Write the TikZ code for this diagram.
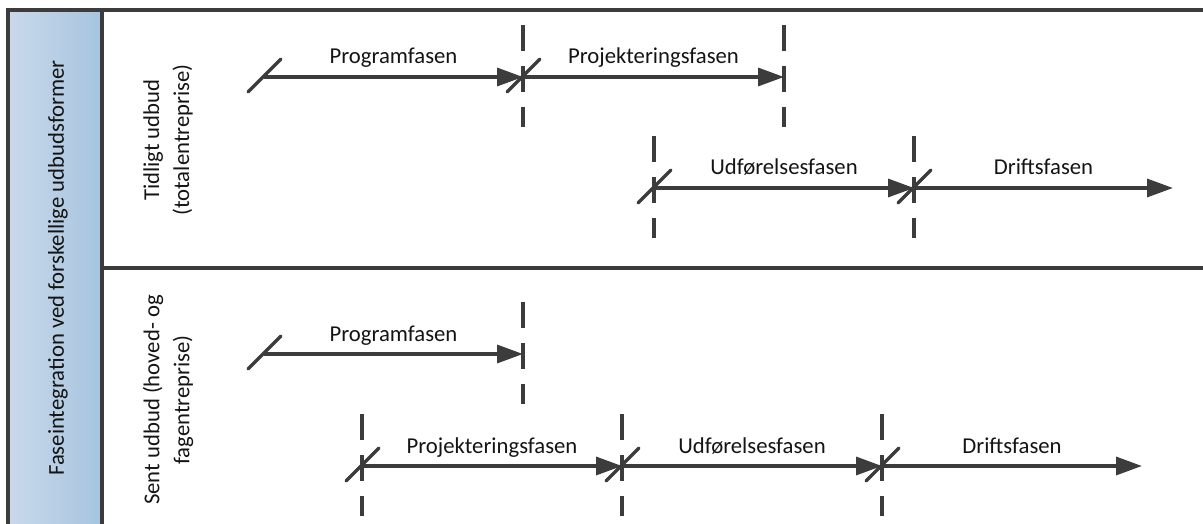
\documentclass[tikz,border=0pt]{standalone}
\usepackage{fontspec}
\setmainfont{Carlito}
\usetikzlibrary{arrows.meta}
\definecolor{ln}{HTML}{3C3C3C}
\definecolor{txt}{HTML}{141414}
\definecolor{bandL}{RGB}{202,217,234}
\definecolor{bandR}{RGB}{166,196,223}
\begin{document}
\begin{tikzpicture}[x=1pt,y=-1pt,
  frame/.style={draw=ln, line width=3.2pt},
  phase/.style={draw=ln, line width=3.4pt, -{Triangle[length=26pt,width=18pt]}},
  slash/.style={draw=ln, line width=3.4pt, line cap=round},
  cut/.style={draw=ln, line width=3.4pt, dash pattern=on 26pt off 15pt},
  lbl/.style={font=\fontsize{22.7}{30}\selectfont, text=txt, inner sep=0pt},
  rowlbl/.style={lbl, rotate=90, align=center}
]
\useasboundingbox (0,0) rectangle (1203,524);
% left band
\shade[left color=bandL, right color=bandR] (8,10) rectangle (102,526);
\node[lbl, rotate=90] (band) at (58,268) {Faseintegration ved forskellige udbudsformer};
% frame
\draw[frame] (1205,10) -- (8,10) -- (8,526);
\draw[frame] (102,10) -- (102,526);
\draw[frame] (102,268) -- (1205,268);
% row labels
\node[rowlbl] (r1) at (168,140) {Tidligt udbud\\(totalentreprise)};
\node[rowlbl] (r2) at (168,400) {Sent udbud (hoved- og\\fagentreprise)};
% coordinates
\coordinate (a0) at (264,77);
\coordinate (a1) at (523,77);
\coordinate (a2) at (784,77);
\coordinate (b0) at (654,188);
\coordinate (b1) at (914,188);
\coordinate (b2) at (1173,188);
\coordinate (c0) at (264,354);
\coordinate (c1) at (523,354);
\coordinate (d0) at (362,466);
\coordinate (d1) at (622,466);
\coordinate (d2) at (882,466);
\coordinate (d3) at (1142,466);
% dashed cut lines
\foreach \p in {a1,a2,b0,b1,c1,d0,d1,d2}{
  \draw[cut] ([yshift=52pt]\p) -- ([yshift=-50pt]\p);
}
% arrows
\draw[phase] (a0) -- (a1) node[lbl, midway, anchor=base, yshift=13pt] (la) {Programfasen};
\draw[phase] (a1) -- (a2) node[lbl, midway, anchor=base, yshift=13pt] (lb) {Projekteringsfasen};
\draw[phase] (b0) -- (b1) node[lbl, midway, anchor=base, yshift=13pt] (lc) {Udførelsesfasen};
\draw[phase] (b1) -- (b2) node[lbl, midway, anchor=base, yshift=13pt] (ld) {Driftsfasen};
\draw[phase] (c0) -- (c1) node[lbl, midway, anchor=base, yshift=13pt] (le) {Programfasen};
\draw[phase] (d0) -- (d1) node[lbl, midway, anchor=base, yshift=13pt] (lf) {Projekteringsfasen};
\draw[phase] (d1) -- (d2) node[lbl, midway, anchor=base, yshift=13pt] (lg) {Udførelsesfasen};
\draw[phase] (d2) -- (d3) node[lbl, midway, anchor=base, yshift=13pt] (lh) {Driftsfasen};
% start slashes
\foreach \p in {a0,a1,b0,b1,c0,d0,d1,d2}{
  \draw[slash] ([xshift=-16pt,yshift=-15pt]\p) -- ([xshift=17pt,yshift=18pt]\p);
}
\end{tikzpicture}
\end{document}
